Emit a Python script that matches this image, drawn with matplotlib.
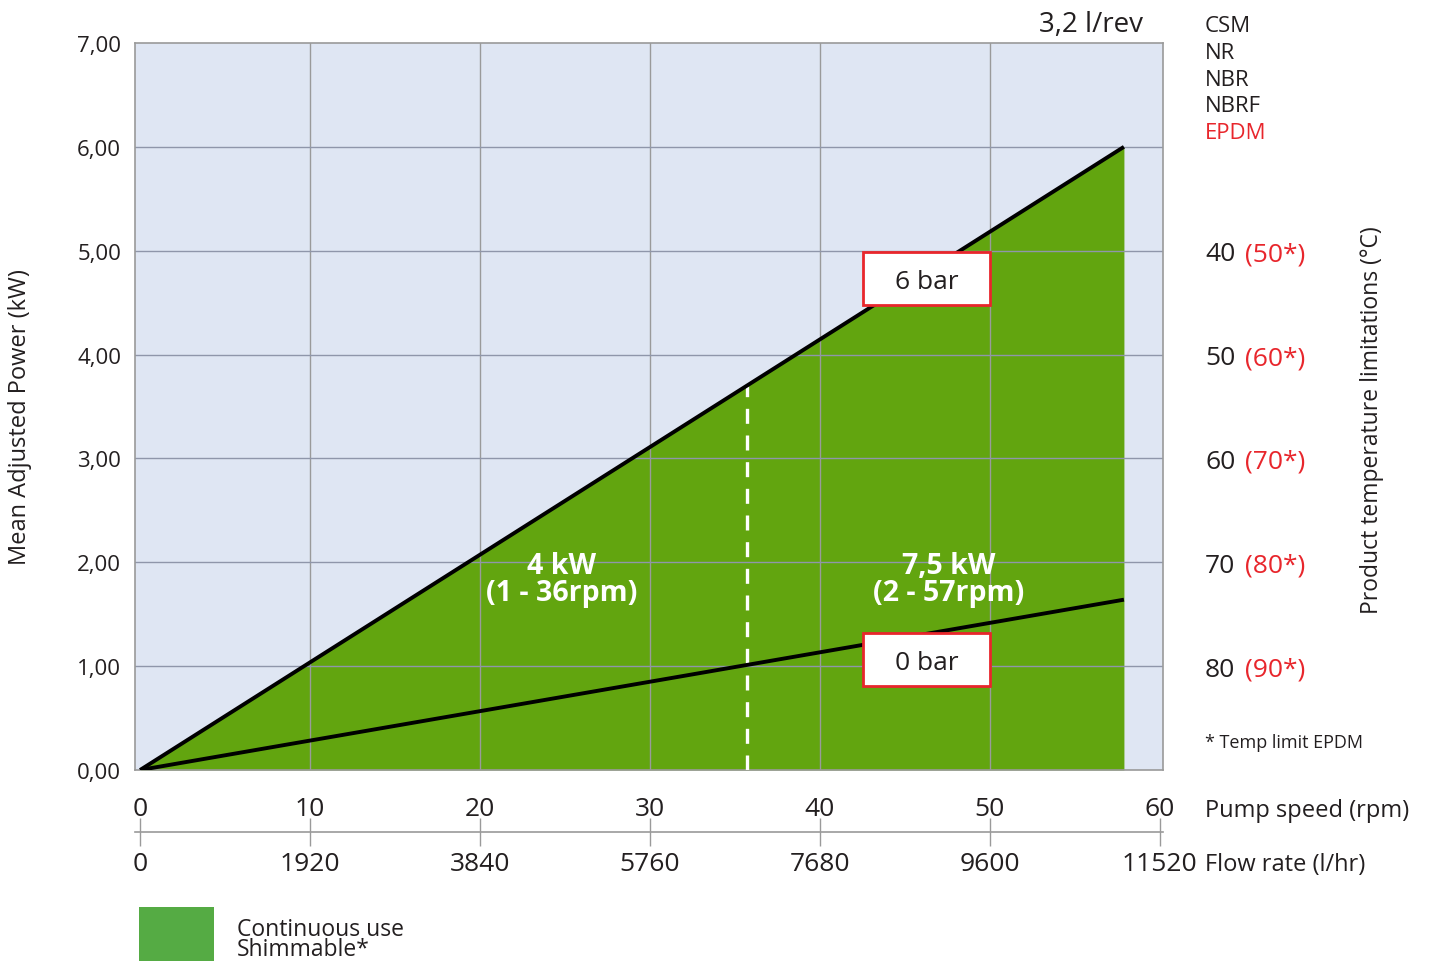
import matplotlib
matplotlib.use("Agg")
import matplotlib.pyplot as plt
from matplotlib.patches import Rectangle
import numpy as np

plt.rcParams['font.family'] = ['Open Sans', 'DejaVu Sans']

# data
rpm_max = 57.9
speed = [0, rpm_max]
power_6bar = [0, 6.0]
power_0bar = [0, 1.64]
split_rpm = 35.7
rpm_ticks = [0, 10, 20, 30, 40, 50, 60]
flow_per_rpm = 192
power_ticks = [0, 1, 2, 3, 4, 5, 6, 7]
temp_rows = [5, 4, 3, 2, 1]
temp_std = ['40', '50', '60', '70', '80']
temp_epdm = ['(50*)', '(60*)', '(70*)', '(80*)', '(90*)']
materials = ['CSM', 'NR', 'NBR', 'NBRF', 'EPDM']

bg = '#dfe6f3'
green = '#62a50f'
red = '#e8262c'
dark = '#231f20'
gridc = '#8f96aa'

fig = plt.figure(figsize=(14.29, 9.62), dpi=100)
ax = fig.add_axes([135/1429, 1-771/962, 1028/1429, 727/962])
ax.set_facecolor(bg)
ax.set_xlim(-0.3, 60.2)
ax.set_ylim(0, 7)

# green area
ax.fill_between(speed, 0, power_6bar, color=green, zorder=1, lw=0)

# grid on top of fill
for v in rpm_ticks[1:-1]:
    ax.axvline(v, color='#9a9a9a', lw=1, zorder=2)
for v in power_ticks[1:-1]:
    ax.axhline(v, color=gridc, lw=1, zorder=2)

ax.plot(speed, power_6bar, color='black', lw=2.8, zorder=4, solid_capstyle='butt')
ax.plot(speed, power_0bar, color='black', lw=2.8, zorder=4, solid_capstyle='butt')
split_top = np.interp(split_rpm, speed, power_6bar)
ax.plot([split_rpm, split_rpm], [0, split_top], color='white', lw=2.4,
        dashes=(4.5, 3.5), zorder=3)

for s in ax.spines.values():
    s.set_color('#9a9a9a')
    s.set_linewidth(1.2)

ax.set_xticks(rpm_ticks)
ax.set_xticklabels([str(t) for t in rpm_ticks])
ax.set_yticks(power_ticks)
ax.set_yticklabels([('%.2f' % t).replace('.', ',') for t in power_ticks])
ax.tick_params(axis='x', length=0, pad=19, labelsize=19, labelcolor=dark)
ax.tick_params(axis='y', length=0, pad=10, labelsize=16, labelcolor=dark)

# flow rate axis
sec = ax.secondary_xaxis(-0.085, functions=(lambda x: x*flow_per_rpm, lambda x: x/flow_per_rpm))
sec.set_xticks([t*flow_per_rpm for t in rpm_ticks])
sec.set_xticklabels([str(t*flow_per_rpm) for t in rpm_ticks])
sec.tick_params(direction='inout', length=20, width=1, color='#9a9a9a', pad=4,
                labelsize=19, labelcolor=dark)
sec.spines['bottom'].set_color('#9a9a9a')
sec.spines['bottom'].set_linewidth(1.2)

fig.text(20/1429, 1 - 417/962, 'Mean Adjusted Power (kW)', rotation=90,
         ha='center', va='center', fontsize=17, color=dark)

# boxes
def box_label(xc, yc, txt):
    w, h = 7.47, 0.51
    ax.add_patch(Rectangle((xc - w/2, yc - h/2), w, h, facecolor='white',
                           edgecolor=red, lw=2, zorder=5))
    ax.text(xc, yc, txt, ha='center', va='center_baseline', fontsize=19, color=dark, zorder=6)

box_label(46.3, 4.73, '6 bar')
box_label(46.3, 1.06, '0 bar')

ax.text(24.8, 1.84, '4 kW\n(1 - 36rpm)', ha='center', va='center', fontsize=20.5,
        fontweight='bold', color='white', linespacing=0.9, zorder=5)
ax.text(47.6, 1.84, '7,5 kW\n(2 - 57rpm)', ha='center', va='center', fontsize=20.5,
        fontweight='bold', color='white', linespacing=0.9, zorder=5)

# right side labels
tr = ax.get_yaxis_transform()
for y, a, b in zip(temp_rows, temp_std, temp_epdm):
    ax.text(1.0409, y, a, transform=tr, ha='left', va='center_baseline', fontsize=19, color=dark)
    ax.text(1.0798, y, b, transform=tr, ha='left', va='center_baseline', fontsize=19, color=red)

mat_y = [24, 51, 78, 104, 131]
for m, py in zip(materials, mat_y):
    fig.text(1205/1429, 1 - py/962, m, ha='left', va='center_baseline', fontsize=16,
             color=red if m == 'EPDM' else dark)

fig.text(1143/1429, 1 - 22/962, '3,2 l/rev', ha='right', va='center_baseline', fontsize=20, color=dark)
fig.text(1372/1429, 1 - 420/962, 'Product temperature limitations (°C)', rotation=90,
         ha='center', va='center', fontsize=16.5, color=dark)
fig.text(1205/1429, 1 - 741/962, '* Temp limit EPDM', ha='left', va='center_baseline',
         fontsize=13, color=dark)
fig.text(1205/1429, 1 - 808/962, 'Pump speed (rpm)', ha='left', va='center_baseline',
         fontsize=17, color=dark)
fig.text(1205/1429, 1 - 862/962, 'Flow rate (l/hr)', ha='left', va='center_baseline',
         fontsize=17, color=dark)

# legend
fig.patches.append(Rectangle((139/1429, 0), 75/1429, 54/962, transform=fig.transFigure,
                             facecolor='#55ab44', edgecolor='none'))
fig.text(237/1429, 1 - 940/962, 'Continuous use\nShimmable*', ha='left', va='center',
         fontsize=16.5, color=dark, linespacing=0.8)

fig.savefig('out.png', dpi=100)
